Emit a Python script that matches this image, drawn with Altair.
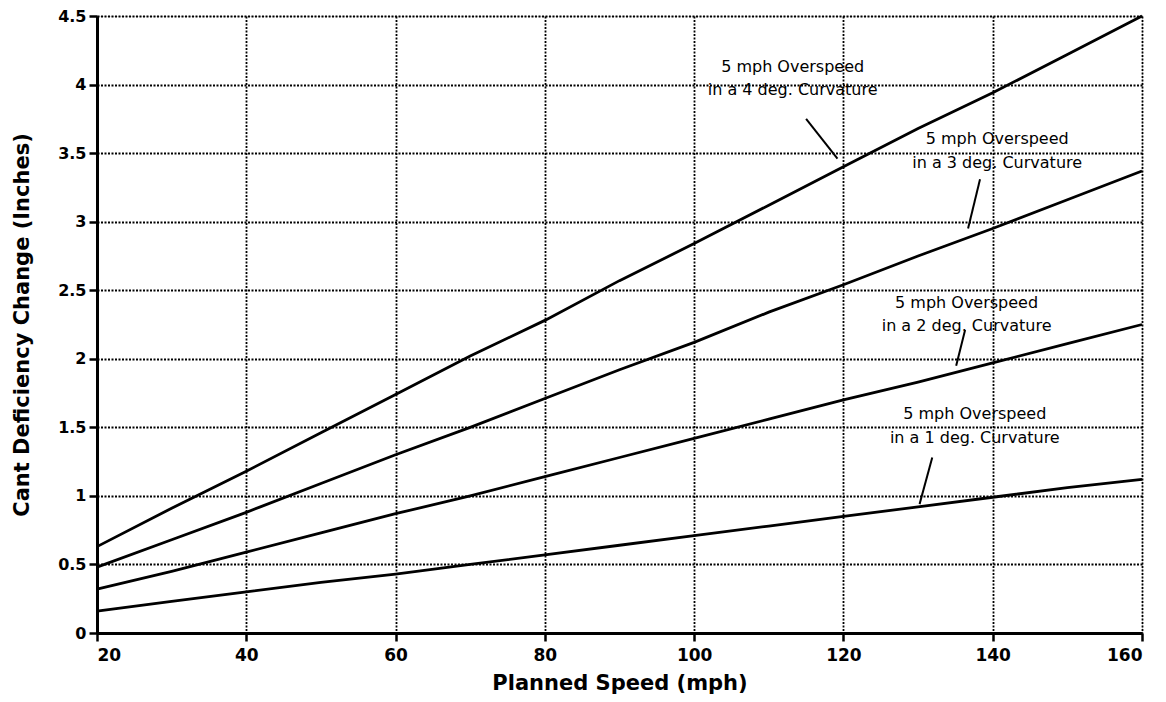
import altair as alt
import pandas as pd

# ---- data ----
speeds = [20, 30, 40, 50, 60, 70, 80, 90, 100, 110, 120, 130, 140, 150, 160]
deg4 = [0.63, 0.91, 1.18, 1.46, 1.74, 2.02, 2.28, 2.57, 2.84, 3.12, 3.40, 3.68, 3.94, 4.22, 4.50]
deg3 = [0.48, 0.68, 0.88, 1.09, 1.30, 1.50, 1.71, 1.92, 2.12, 2.34, 2.54, 2.75, 2.95, 3.16, 3.37]
deg2 = [0.32, 0.45, 0.59, 0.73, 0.87, 1.00, 1.14, 1.28, 1.42, 1.56, 1.70, 1.83, 1.97, 2.11, 2.25]
deg1 = [0.16, 0.23, 0.30, 0.37, 0.43, 0.50, 0.57, 0.64, 0.71, 0.78, 0.85, 0.92, 0.99, 1.06, 1.12]
curvatures = ["4 deg", "3 deg", "2 deg", "1 deg"]

x_ticks = [20, 40, 60, 80, 100, 120, 140, 160]
y_ticks = [0, 0.5, 1, 1.5, 2, 2.5, 3, 3.5, 4, 4.5]

# annotation labels (in data coordinates)
ann_line1 = ["5 mph Overspeed", "5 mph Overspeed", "5 mph Overspeed", "5 mph Overspeed"]
ann_line2 = ["in a 4 deg. Curvature", "in a 3 deg. Curvature",
             "in a 2 deg. Curvature", "in a 1 deg. Curvature"]
ann_x = [113.2, 140.6, 136.5, 137.6]
ann_y1 = [4.13, 3.60, 2.41, 1.60]
ann_y2 = [3.96, 3.43, 2.24, 1.42]
# leader lines
lead_x1 = [115.0, 138.3, 136.3, 131.9]
lead_y1 = [3.75, 3.31, 2.21, 1.28]
lead_x2 = [119.2, 136.7, 135.1, 130.2]
lead_y2 = [3.46, 2.95, 1.95, 0.94]

rows = []
for name, vals in zip(curvatures, [deg4, deg3, deg2, deg1]):
    for s, v in zip(speeds, vals):
        rows.append({"speed": s, "value": v, "curv": name})
lines_df = pd.DataFrame(rows)

text_df = pd.DataFrame({
    "x": ann_x + ann_x,
    "y": ann_y1 + ann_y2,
    "label": ann_line1 + ann_line2,
})
lead_df = pd.DataFrame({"x": lead_x1, "y": lead_y1, "x2": lead_x2, "y2": lead_y2})

xs = alt.Scale(domain=[20, 160], nice=False, zero=False)
ys = alt.Scale(domain=[0, 4.5], nice=False)

FONT = "DejaVu Sans"

x_axis = alt.Axis(
    values=x_ticks, title="Planned Speed (mph)", grid=True,
    labelFont=FONT, labelFontSize=17, labelFontWeight="bold", labelColor="black",
    labelPadding=6, tickSize=8, tickWidth=2.5, tickColor="black",
    domainColor="black", domainWidth=3,
    gridColor="black", gridDash=[2, 1.5], gridWidth=1.8, gridOpacity=1,
    titleFont=FONT, titleFontSize=21, titleFontWeight="bold", titleColor="black",
    titlePadding=9,
)
y_axis = alt.Axis(
    values=y_ticks, title="Cant Deficiency Change (Inches)", format="~g", grid=True,
    labelFont=FONT, labelFontSize=16, labelFontWeight="bold", labelColor="black",
    labelPadding=3, tickSize=8, tickWidth=2.5, tickColor="black",
    domainColor="black", domainWidth=3,
    gridColor="black", gridDash=[2, 1.5], gridWidth=1.8, gridOpacity=1,
    titleFont=FONT, titleFontSize=21, titleFontWeight="bold", titleColor="black",
    titlePadding=25,
)

lines = alt.Chart(lines_df).mark_line(color="black", strokeWidth=2.8).encode(
    x=alt.X("speed:Q", scale=xs, axis=x_axis),
    y=alt.Y("value:Q", scale=ys, axis=y_axis),
    detail="curv:N",
)

leaders = alt.Chart(lead_df).mark_rule(color="black", strokeWidth=2).encode(
    x=alt.X("x:Q", scale=xs), y=alt.Y("y:Q", scale=ys),
    x2="x2:Q", y2="y2:Q",
)

texts = alt.Chart(text_df).mark_text(
    font=FONT, fontSize=16, color="black", align="center", baseline="middle"
).encode(
    x=alt.X("x:Q", scale=xs), y=alt.Y("y:Q", scale=ys), text="label:N",
)

chart = alt.layer(lines, leaders, texts).properties(
    width=1045, height=617,
    autosize=alt.AutoSizeParams(type="none"),
    padding={"left": 89, "top": 8, "right": 12, "bottom": 70},
).configure_view(stroke="black", strokeWidth=3).configure(background="white")

chart.save("out.html", embed_options={"renderer": "svg", "actions": False})
